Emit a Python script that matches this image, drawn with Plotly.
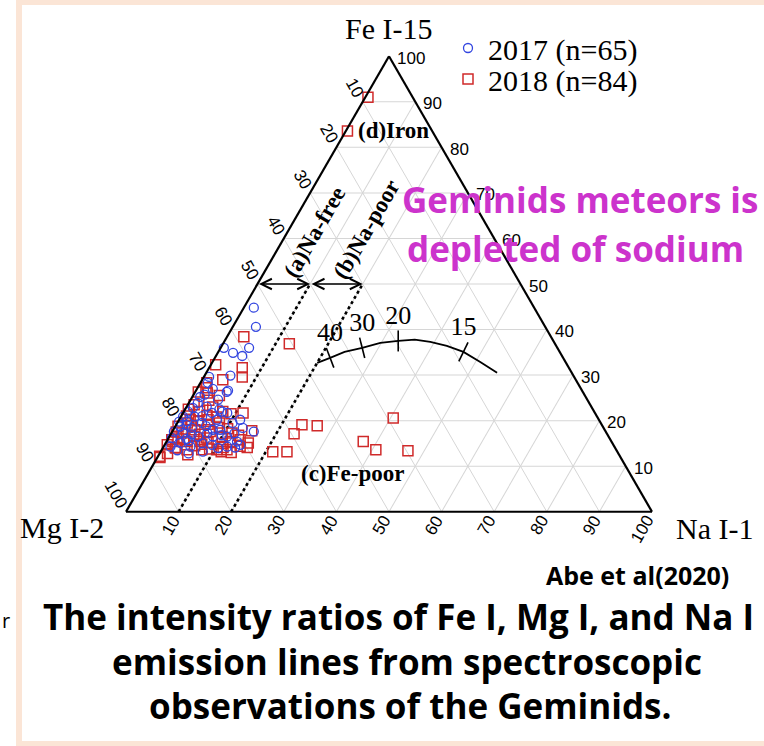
import math
import plotly.graph_objects as go

# ---------------- data: intensity ratios (%) of Fe I, Mg I, Na I ----------------
fe_2017 = [26.3, 28.3, 25.2, 25.7, 23.9, 23.1, 22.0, 19.8, 20.9, 18.7,
           17.6, 16.2, 17.3, 18.4, 19.5, 21.7, 20.2, 22.0, 21.7, 18.0,
           17.3, 16.5, 16.5, 16.5, 15.4, 14.7, 14.3, 14.7, 15.1, 14.3,
           14.3, 14.1, 17.6, 18.4, 19.5, 20.2, 24.6, 22.8, 20.9, 19.8,
           16.0, 18.8, 15.5, 17.0, 13.5, 19.0, 16.8, 15.0, 21.0, 14.0,
           12.8, 18.0, 13.2, 22.5, 17.2, 44.8, 40.6, 36.0, 34.9, 34.2,
           36.0, 29.9, 26.6, 29.6, 27.0]
mg_2017 = [67.7, 70.3, 73.3, 72.2, 74.4, 73.1, 77.2, 78.5, 76.5, 80.4,
           82.1, 83.2, 80.5, 78.3, 75.8, 72.8, 72.6, 70.7, 69.9, 73.1,
           75.9, 78.0, 75.2, 72.5, 71.2, 70.9, 73.6, 76.3, 82.1, 84.4,
           80.6, 72.2, 66.9, 68.6, 70.0, 68.2, 70.2, 75.9, 78.7, 80.0,
           80.5, 75.4, 80.3, 79.0, 83.5, 79.0, 73.4, 78.0, 75.0, 75.5,
           81.7, 74.5, 78.8, 71.0, 70.8, 53.3, 55.0, 63.4, 62.2, 60.8,
           58.6, 65.2, 67.3, 69.4, 70.0]
na_2017 = [6.0, 1.4, 1.5, 2.1, 1.7, 3.8, 0.8, 1.7, 2.6, 0.9,
           0.3, 0.6, 2.2, 3.3, 4.7, 5.5, 7.2, 7.3, 8.4, 8.9,
           6.8, 5.5, 8.3, 11.0, 13.4, 14.4, 12.1, 9.0, 2.8, 1.3,
           5.1, 13.7, 15.5, 13.0, 10.5, 11.6, 5.2, 1.3, 0.4, 0.2,
           3.5, 5.8, 4.2, 4.0, 3.0, 2.0, 9.8, 7.0, 4.0, 10.5,
           5.5, 7.5, 8.0, 6.5, 12.0, 1.9, 4.4, 0.6, 2.9, 5.0,
           5.4, 4.9, 6.1, 1.0, 3.0]

fe_2018 = [91.0, 83.6, 38.4, 36.9, 32.3, 31.6, 29.6, 29.0, 28.3, 27.2,
           19.1, 18.9, 17.1, 13.2, 13.2, 20.6, 15.4, 13.6, 13.4, 21.7,
           15.8, 14.7, 14.1, 13.6, 13.6, 13.6, 13.6, 14.1, 15.8, 22.0,
           20.2, 20.2, 17.3, 18.0, 17.6, 16.5, 17.3, 15.4, 15.4, 15.4,
           16.2, 11.9, 26.1, 26.3, 19.5, 15.4, 15.1, 14.1, 12.5, 12.2,
           19.0, 17.0, 18.5, 20.8, 23.5, 24.5, 22.5, 21.0, 16.0, 14.5,
           13.8, 15.0, 16.8, 18.2, 19.5, 14.0, 12.8, 13.0, 17.5, 18.8,
           20.0, 22.0, 25.5, 16.2, 15.2, 14.4, 13.2, 21.5, 23.0, 17.8,
           21.2, 19.2, 16.6, 14.8]
mg_2018 = [8.5, 16.1, 58.4, 50.5, 66.8, 62.1, 63.1, 67.1, 70.5, 71.2,
           57.0, 54.2, 59.5, 65.5, 62.8, 38.9, 47.2, 45.7, 39.7, 66.9,
           83.4, 84.8, 83.6, 81.6, 78.8, 75.9, 74.0, 69.9, 70.4, 70.6,
           74.3, 77.7, 80.7, 77.9, 75.2, 73.5, 71.2, 72.5, 78.2, 80.7,
           82.0, 87.6, 71.5, 73.1, 78.6, 83.4, 69.2, 74.5, 82.0, 87.5,
           78.0, 77.5, 73.0, 72.4, 75.3, 72.0, 76.9, 78.0, 81.0, 79.7,
           77.2, 74.2, 70.2, 71.6, 72.5, 83.5, 85.7, 73.5, 81.7, 80.7,
           76.2, 75.0, 69.5, 76.6, 76.8, 71.1, 75.3, 69.3, 72.0, 67.2,
           74.0, 74.8, 78.8, 78.2]
na_2018 = [0.5, 0.3, 3.2, 12.6, 0.9, 6.3, 7.3, 3.9, 1.2, 1.6,
           23.9, 26.9, 23.4, 21.3, 24.0, 40.5, 37.4, 40.7, 46.9, 11.4,
           0.8, 0.5, 2.3, 4.8, 7.6, 10.5, 12.4, 16.0, 13.8, 7.4,
           5.5, 2.1, 2.0, 4.1, 7.2, 10.0, 11.5, 12.1, 6.4, 3.9,
           1.8, 0.5, 2.4, 0.6, 1.9, 1.2, 15.7, 11.4, 5.5, 0.3,
           3.0, 5.5, 8.5, 6.8, 1.2, 3.5, 0.6, 1.0, 3.0, 5.8,
           9.0, 10.8, 13.0, 10.2, 8.0, 2.5, 1.5, 13.5, 0.8, 0.5,
           3.8, 3.0, 5.0, 7.2, 8.0, 14.5, 11.5, 9.2, 5.0, 15.0,
           4.8, 6.0, 4.6, 7.0]

# model curve and its labelled marks
curve_fe = [32.7, 33.8, 35.1, 36.0, 37.1, 37.5, 37.8, 37.3, 36.4, 35.1, 32.9, 30.5]
curve_mg = [47.3, 44.3, 40.9, 37.1, 33.1, 29.5, 26.2, 23.5, 20.8, 18.3, 16.2, 14.2]
curve_na = [20.0, 21.9, 24.0, 26.9, 29.8, 33.0, 36.0, 39.2, 42.8, 46.6, 50.9, 55.3]
mark_fe = [33.8, 36.0, 37.5, 35.1]
mark_mg = [44.3, 37.1, 29.5, 18.3]
mark_na = [21.9, 26.9, 33.0, 46.6]
mark_labels = ["40", "30", "20", "15"]
mark_tilt = [-21, -14, 0, 26]

# Na-free / Na-poor boundaries (Na = 10 %, Na = 20 %)
bound_na = [10, 20]
bound_fe_span = [0, 50]

tick_values = [10, 20, 30, 40, 50, 60, 70, 80, 90, 100]

# ---------------- geometry helpers ----------------
W, H = 764, 746
dom_x = [126 / W, 652 / W]
dom_y = [1 - 512 / H, 1 - 56 / H]

# same equilateral fit plotly uses for a ternary subplot
_wmax = (dom_x[1] - dom_x[0]) * W
_hmax = (dom_y[1] - dom_y[0]) * H
_r = 2 / math.sqrt(3)
if _wmax > _r * _hmax:
    TH = _hmax
    TW = TH * _r
else:
    TW = _wmax
    TH = TW / _r
TX0 = W * (dom_x[0] + dom_x[1]) / 2 - TW / 2
TY0 = H * (1 - (dom_y[0] + dom_y[1]) / 2) - TH / 2


def tern_px(fe, mg, na):
    s = fe + mg + na
    return TX0 + TW * (na + fe / 2) / s, TY0 + TH * (1 - fe / s)


def paper(x, y):
    return x / W, 1 - y / H


BLUE = "#3346e0"
RED = "#d02a2a"
SERIF = "Liberation Serif, Times New Roman, serif"
SANS = "Liberation Sans, Arial, sans-serif"
HEAVY = "Open Sans, sans-serif"

fig = go.Figure()

# boundaries of the Na-free and Na-poor regions
for v in bound_na:
    fig.add_trace(go.Scatterternary(
        a=bound_fe_span, b=[100 - v - f for f in bound_fe_span], c=[v, v],
        mode="lines", line=dict(color="black", width=2.6, dash="3px,3px"),
        showlegend=False, hoverinfo="skip", cliponaxis=False))

# model curve
fig.add_trace(go.Scatterternary(
    a=curve_fe, b=curve_mg, c=curve_na, mode="lines",
    line=dict(color="black", width=1.8), showlegend=False,
    hoverinfo="skip", cliponaxis=False))
fig.add_trace(go.Scatterternary(
    a=mark_fe, b=mark_mg, c=mark_na, mode="markers+text",
    text=mark_labels, textposition="top center",
    textfont=dict(family=SERIF, size=26, color="black"),
    marker=dict(symbol="line-ns", size=15, angle=mark_tilt,
                line=dict(color="black", width=1.6)),
    showlegend=False, hoverinfo="skip", cliponaxis=False))

# observations
fig.add_trace(go.Scatterternary(
    a=fe_2018, b=mg_2018, c=na_2018, mode="markers", name="2018 (n=84)",
    legend="legend2",
    marker=dict(symbol="square-open", size=10, color=RED,
                line=dict(color=RED, width=1.5)),
    hoverinfo="skip", cliponaxis=False))
fig.add_trace(go.Scatterternary(
    a=fe_2017, b=mg_2017, c=na_2017, mode="markers", name="2017 (n=65)",
    legend="legend",
    marker=dict(symbol="circle-open", size=9, color=BLUE,
                line=dict(color=BLUE, width=1.3)),
    hoverinfo="skip", cliponaxis=False))

axis_style = dict(title=dict(text=""), min=0, tick0=0, dtick=10,
                  showticklabels=False, ticks="", showgrid=True,
                  gridcolor="#d6d6d6", gridwidth=1, showline=True,
                  linecolor="black", linewidth=2.2)

ann = []

# tick labels: Fe on the right edge, Mg on the left edge, Na along the base
tick_font = dict(family=SANS, size=17, color="black")
s3 = math.sqrt(3) / 2
for v in tick_values:
    x, y = tern_px(v, 0, 100 - v)
    px, py = paper(x + 6, y + 2)
    ann.append(dict(text=str(v), x=px, y=py, xanchor="left", yanchor="middle",
                    font=tick_font))
    d = 6 + len(str(v)) * 0.556 * 17 / 2
    x, y = tern_px(100 - v, v, 0)
    px, py = paper(x - 0.5 * d, y - s3 * d)
    ann.append(dict(text=str(v), x=px, y=py, xanchor="center", yanchor="middle",
                    textangle=60, font=tick_font))
    x, y = tern_px(0, 100 - v, v)
    px, py = paper(x - 0.5 * d, y + s3 * d)
    ann.append(dict(text=str(v), x=px, y=py, xanchor="center", yanchor="middle",
                    textangle=-60, font=tick_font))

# vertex names
title_font = dict(family=SERIF, size=30, color="black")
for txt, (x, y) in [("Fe I-15", (388, 28)), ("Mg I-2", (62, 527)),
                    ("Na I-1", (714, 528))]:
    px, py = paper(x, y)
    ann.append(dict(text=txt, x=px, y=py, xanchor="center", yanchor="middle",
                    font=title_font))

# region names
region_font = dict(family=SERIF, size=23, color="black")
x, y = tern_px(83.6, 16.1, 0.3)
px, py = paper(x + 9, y)
ann.append(dict(text="<b>(d)Iron</b>", x=px, y=py, xanchor="left",
                yanchor="middle", font=region_font))
px, py = paper(352, 473)
ann.append(dict(text="<b>(c)Fe-poor</b>", x=px, y=py, xanchor="center",
                yanchor="middle", font=region_font))
for txt, (x, y) in [("<b>(a)Na-free</b>", (314, 232)),
                    ("<b>(b)Na-poor</b>", (366, 229))]:
    px, py = paper(x, y)
    ann.append(dict(text=txt, x=px, y=py, xanchor="center", yanchor="middle",
                    textangle=-60, font=region_font))

# width arrows of the Na-free and Na-poor bands at Fe = 50 %
for na0, na1 in [(0, 10), (10, 20)]:
    x0, y0 = tern_px(50, 50 - na0, na0)
    x1, y1 = tern_px(50, 50 - na1, na1)
    px, py = paper(x1, y1)
    ann.append(dict(text="", x=px, y=py, ax=x0 - x1, ay=0, showarrow=True,
                    arrowside="end+start", arrowhead=5, startarrowhead=5,
                    arrowsize=1.3, startarrowsize=1.3, arrowwidth=1.6,
                    arrowcolor="black"))

# headline and caption texts
MAGENTA = "#cc33cc"
for txt, (x, y) in [("<b>Geminids meteors is</b>", (580, 199)),
                    ("<b>depleted of sodium</b>", (575, 248))]:
    px, py = paper(x, y)
    ann.append(dict(text=txt, x=px, y=py, xanchor="center", yanchor="middle",
                    font=dict(family=HEAVY, size=35, color=MAGENTA)))

px, py = paper(637, 575)
ann.append(dict(text="<b>Abe et al(2020)</b>", x=px, y=py, xanchor="center",
                yanchor="middle", font=dict(family=HEAVY, size=25, color="black")))

for txt, (x, y) in [("<b>The intensity ratios of Fe I, Mg I, and Na I</b>", (398, 616)),
                    ("<b>emission lines from spectroscopic</b>", (407, 661)),
                    ("<b>observations of the Geminids.</b>", (410, 705))]:
    px, py = paper(x, y)
    ann.append(dict(text=txt, x=px, y=py, xanchor="center", yanchor="middle",
                    font=dict(family=HEAVY, size=35, color="black")))

px, py = paper(0, 620)
ann.append(dict(text="r", x=px, y=py, xanchor="left", yanchor="middle",
                font=dict(family=HEAVY, size=20, color="black")))

for a in ann:
    a.setdefault("xref", "paper")
    a.setdefault("yref", "paper")
    a.setdefault("showarrow", False)

leg_font = dict(family=SERIF, size=30, color="black")
fig.update_layout(
    width=W, height=H,
    margin=dict(l=0, r=0, t=0, b=0),
    paper_bgcolor="white",
    ternary=dict(domain=dict(x=dom_x, y=dom_y), sum=100, bgcolor="white",
                 aaxis=axis_style, baxis=axis_style, caxis=axis_style),
    legend=dict(x=448 / W, xanchor="left", y=1 - 48 / H, yanchor="middle",
                font=leg_font, bgcolor="rgba(0,0,0,0)", itemwidth=30),
    legend2=dict(x=448 / W, xanchor="left", y=1 - 79 / H, yanchor="middle",
                 font=leg_font, bgcolor="rgba(0,0,0,0)", itemwidth=30),
    annotations=ann,
    shapes=[dict(type="rect", xref="paper", yref="paper",
                 x0=19 / W, x1=1.02, y0=1 - 744 / H, y1=1 - 2 / H,
                 line=dict(color="#fbe5d6", width=6),
                 fillcolor="rgba(0,0,0,0)", layer="below")],
    hovermode=False,
)

fig.write_html("out.html")
